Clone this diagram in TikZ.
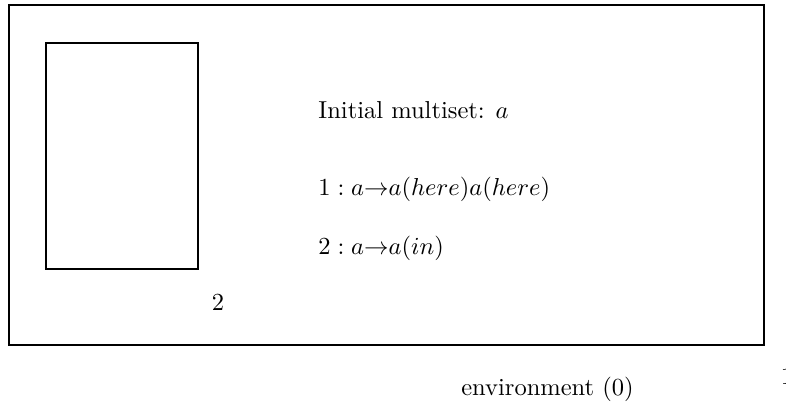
\documentclass[tikz,border=0pt]{standalone}
\begin{document}
\begin{tikzpicture}[x=0.408pt,y=-0.408pt,
  boxline/.style={draw,line width=0.8pt},
  lbl/.style={inner sep=0pt,anchor=base west}]
\useasboundingbox (0,0) rectangle (786,407);
\draw[boxline] (9,5) rectangle (764,345);
\node[boxline,minimum width=152*0.408pt,minimum height=226*0.408pt,inner sep=0pt] (inner) at (122,156) {};
\node[inner sep=0pt] (two) at (218,302) {2};
\node[lbl] (init) at (318,118) {Initial multiset: $a$};
\node[lbl] (r1) at (318,195) {$1: a{\to}a(here)a(here)$};
\node[lbl] (r2) at (318,254) {$2: a{\to}a(in)$};
\node[inner sep=0pt] (env) at (547.5,389) {environment (0)};
\node[inner sep=0pt] (one) at (787,376) {1};
\end{tikzpicture}
\end{document}
